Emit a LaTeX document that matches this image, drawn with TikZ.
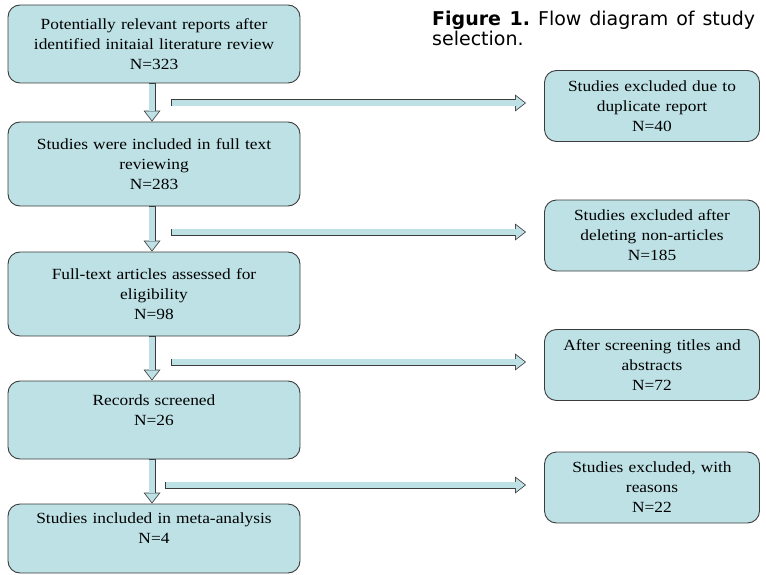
\documentclass[tikz,border=0pt]{standalone}
\usepackage{fontspec}
\setmainfont[FakeStretch=1.12]{Liberation Serif}
\newfontfamily\capfont{DejaVu Sans}
\usetikzlibrary{arrows.meta}
\definecolor{boxfill}{RGB}{189,225,229}
\definecolor{boxline}{RGB}{60,60,60}

\begin{document}
\begin{tikzpicture}[x=1pt, y=-1pt, line join=round,
  box/.style={draw=boxline, fill=boxfill, line width=0.9pt, rounded corners=12pt,
    align=center, inner sep=0pt, font=\fontsize{15.5}{20}\selectfont},
  leftbox/.style={box, minimum width=292pt, text width=284pt},
  rightbox/.style={box, minimum width=215pt, minimum height=71pt, text width=210pt},
  hollow/.style={draw=boxline, line width=7pt, shorten >=#1,
    -{Triangle[length=11pt, width=17pt, line width=0pt]},
    postaction={draw=boxfill, line width=5.4pt, shorten <=0.8pt, shorten >=#1+1.3pt,
      -{Triangle[length=8.9pt, width=13.8pt, line width=0pt]}}},
  hollow/.default=0pt]
\useasboundingbox (0,0) rectangle (766,575);

% caption
\node[anchor=north west, align=left, inner sep=0pt, font=\capfont\fontsize{19}{20}\selectfont\frenchspacing] (cap) at (432,10.6)
  {\makebox[323pt][s]{\textbf{Figure 1.} Flow diagram of study}\\selection.};

% main column
\node[leftbox, minimum height=78pt] (rep) at (154,44) {Potentially relevant reports after\\identified initaial literature review\\N=323};
\node[leftbox, minimum height=84pt] (full) at (154,164) {Studies were included in full text\\reviewing\\N=283};
\node[leftbox, minimum height=84pt] (elig) at (154,294) {Full-text articles assessed for\\eligibility\\N=98};
\node[leftbox, minimum height=78pt] (scr) at (154,420) {Records screened\\N=26\\\mbox{}};
\node[leftbox, minimum height=69pt] (meta) at (154,538.5) {Studies included in meta-analysis\\N=4\\\mbox{}};

% excluded
\node[rightbox] (dup) at (652,106) {Studies excluded due to\\duplicate report\\N=40};
\node[rightbox] (non) at (652,235.5) {Studies excluded after\\deleting non-articles\\N=185};
\node[rightbox] (tit) at (652,365) {After screening titles and\\abstracts\\N=72};
\node[rightbox] (rea) at (652,487.5) {Studies excluded, with\\reasons\\N=22};

\coordinate (s1) at (171,103);
\coordinate (s2) at (171,232);
\coordinate (s3) at (171,362);
\coordinate (s4) at (165,485);

\foreach \a/\b in {rep/full, full/elig, elig/scr, scr/meta}
    \draw[hollow] ([xshift=-2pt]\a.south) -- ([xshift=-2pt]\b.north);
\foreach \s/\b in {s1/dup, s2/non, s3/tit, s4/rea}
    \draw[hollow=18pt] (\s) -- (\s -| \b.west);
\end{tikzpicture}
\end{document}
